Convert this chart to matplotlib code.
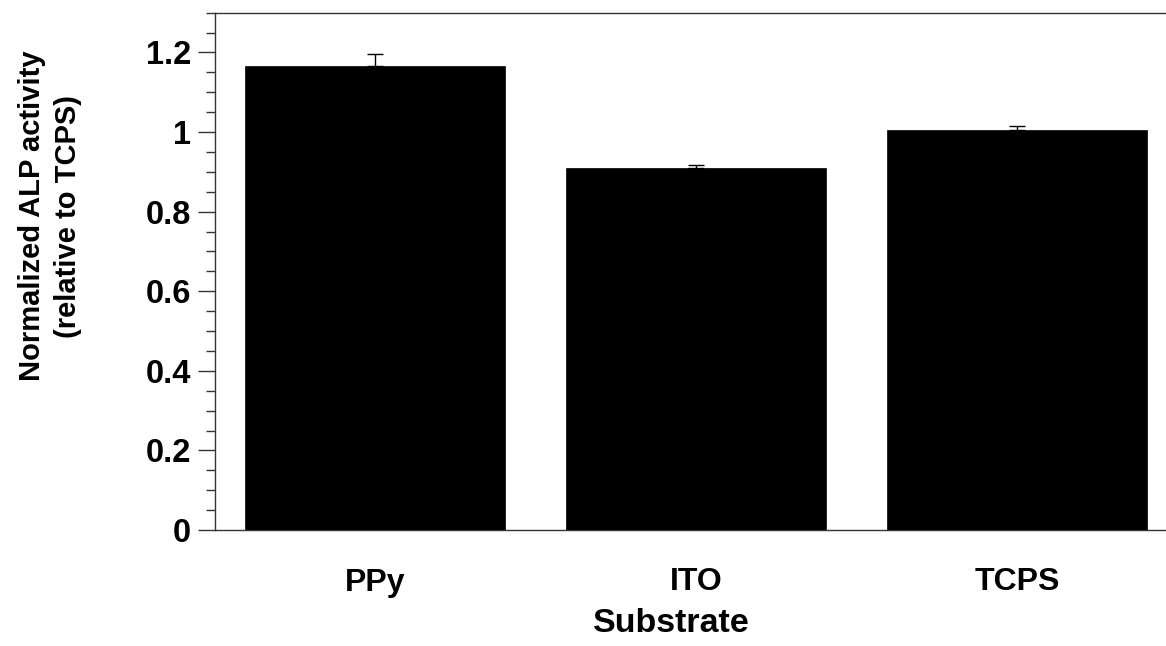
import matplotlib
matplotlib.use("Agg")
import matplotlib.pyplot as plt
import numpy as np
from matplotlib.ticker import MultipleLocator

categories = ["PPy", "ITO", "TCPS"]
values = [1.167, 0.909, 1.005]
errors = [0.030, 0.009, 0.011]
yticks = [0, 0.2, 0.4, 0.6, 0.8, 1.0, 1.2]
ytick_labels = ["0", "0.2", "0.4", "0.6", "0.8", "1", "1.2"]

plt.rcParams['font.family'] = ['Liberation Sans', 'DejaVu Sans']
plt.rcParams['font.weight'] = 'bold'

W, H = 1166, 646
fig = plt.figure(figsize=(W / 100, H / 100), dpi=100)
left_px, right_px, top_px, bottom_px = 214.7, 1166, 12.7, 530
ax = fig.add_axes([left_px / W, 1 - bottom_px / H, (right_px - left_px) / W, (bottom_px - top_px) / H])

x = np.arange(len(categories))
ax.bar(x, values, width=0.81, color='black', edgecolor='black', linewidth=0.5, zorder=2)
ax.errorbar(x, values, yerr=[np.zeros(len(errors)), errors], fmt='none', ecolor='black',
            elinewidth=1.0, capsize=5.5, capthick=1.0, zorder=1)

ax.set_xlim(-0.5, 2.463)
ax.set_ylim(0, 1.3)
ax.set_yticks(yticks)
ax.set_yticklabels(ytick_labels)
ax.yaxis.set_minor_locator(MultipleLocator(0.05))
ax.set_xticks(x)
ax.set_xticklabels(categories)

ax.spines['right'].set_visible(False)
for s in ['top', 'bottom', 'left']:
    ax.spines[s].set_linewidth(1.0)
    ax.spines[s].set_color('#333333')

ax.tick_params(axis='y', which='major', length=12, width=1.0, direction='out', pad=5,
               labelsize=23.5, colors='#333333', labelcolor='black')
ax.tick_params(axis='y', which='minor', length=6.5, width=1.0, direction='out', colors='#333333')
ax.tick_params(axis='x', which='both', length=0, pad=27, labelsize=23)
for lab in ax.get_xticklabels() + ax.get_yticklabels():
    lab.set_fontweight('bold')

fig.text(671 / W, 1 - 624 / H, "Substrate", ha='center', va='center', fontsize=24.5, fontweight='bold')
fig.text(50 / W, 1 - 216 / H, "Normalized ALP activity\n(relative to TCPS)", ha='center', va='center',
         rotation=90, multialignment='center', fontsize=21, fontweight='bold', linespacing=1.35)

fig.savefig("out.png", dpi=100)
